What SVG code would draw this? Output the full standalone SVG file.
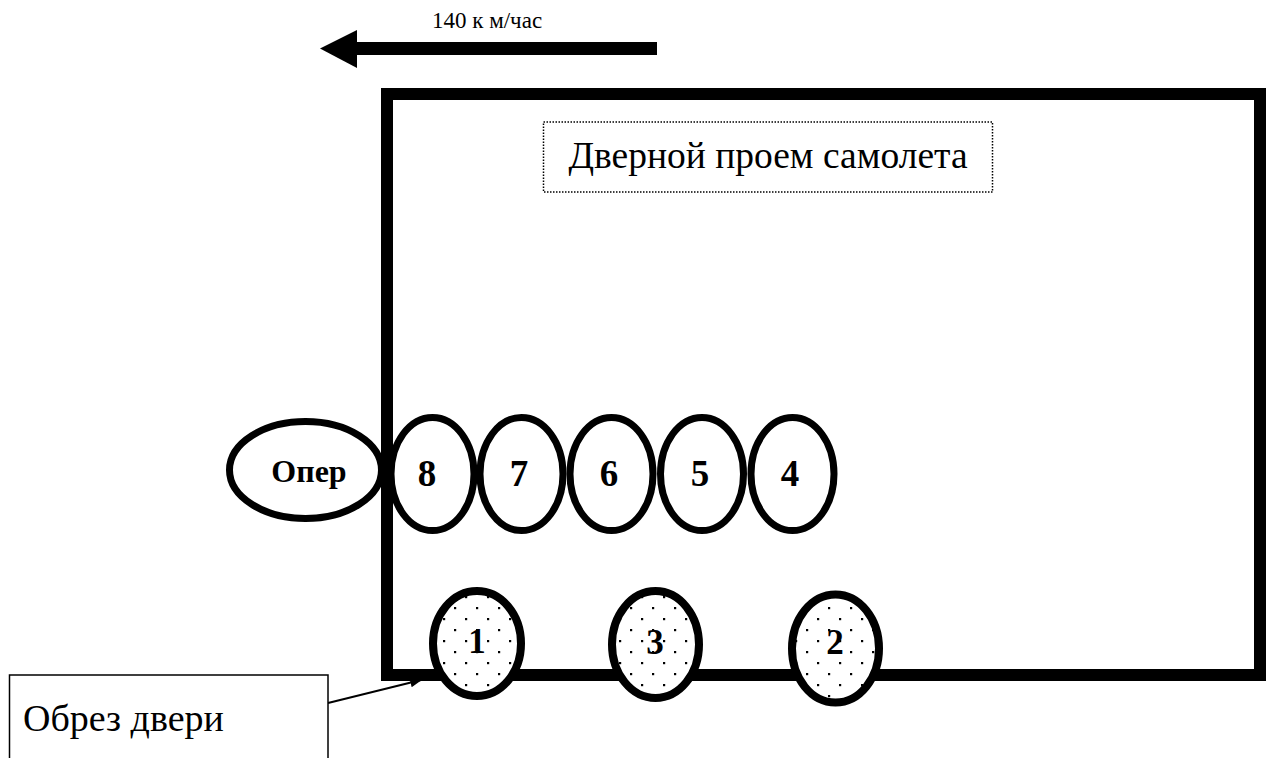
<svg xmlns="http://www.w3.org/2000/svg" width="1272" height="758" viewBox="0 0 1272 758">
  <style>
    .lbl { font-family: "Liberation Serif", "Times New Roman", serif; fill: #000; }
    .num { font-family: "Liberation Serif", "Times New Roman", serif; font-weight: bold; text-anchor: middle; fill: #000; }
    .big { font-size: 37px; }
    .sill { font-size: 35px; }
    .seat { fill: #fff; stroke: #000; stroke-width: 7; }
    .door { fill: url(#dots); stroke: #000; stroke-width: 8; }
  </style>
  <defs>
    <pattern id="dots" width="22" height="22" patternUnits="userSpaceOnUse" x="3" y="2">
      <rect width="22" height="22" fill="#fff"/>
      <rect x="0" y="0" width="2.2" height="2.2" fill="#000"/>
      <rect x="11" y="11" width="2.2" height="2.2" fill="#000"/>
    </pattern>
    <marker id="tip" viewBox="0 0 10 10" refX="9" refY="5" markerWidth="6" markerHeight="6" orient="auto" markerUnits="strokeWidth">
      <path d="M0,1 L10,5 L0,9 z" fill="#000"/>
    </marker>
  </defs>

  <rect width="1272" height="758" fill="#fff"/>

  <!-- flight direction -->
  <g id="direction">
    <rect x="354" y="42" width="303" height="13" fill="#000"/>
    <polygon points="320,48.5 357,30 357,68" fill="#000"/>
    <text class="lbl" x="432" y="28" font-size="23">140 к м/час</text>
  </g>

  <!-- aircraft door opening -->
  <g id="door-frame">
    <rect x="387" y="94" width="873" height="581" fill="none" stroke="#000" stroke-width="12"/>
  </g>

  <g id="title">
    <rect x="543.5" y="122" width="449" height="70" fill="none" stroke="#000" stroke-width="1.5" stroke-dasharray="1.5 1.5"/>
    <text class="lbl" x="768" y="168" font-size="37.5" text-anchor="middle">Дверной проем самолета</text>
  </g>

  <!-- connectors -->
  <g id="connectors">
    <line x1="328" y1="703" x2="421" y2="680" stroke="#000" stroke-width="2" marker-end="url(#tip)"/>
  </g>

  <!-- jumpers in line -->
  <g id="node-oper">
    <ellipse class="seat" cx="305.5" cy="470" rx="76" ry="48.5"/>
    <text class="num" x="309" y="482" style="font-size:32px">Опер</text>
  </g>
  <g id="node-8">
    <ellipse class="seat" cx="432.5" cy="474" rx="41.5" ry="56.5"/>
    <text class="num big" x="427" y="486">8</text>
  </g>
  <g id="node-7">
    <ellipse class="seat" cx="521.5" cy="474" rx="41.5" ry="56.5"/>
    <text class="num big" x="519" y="486">7</text>
  </g>
  <g id="node-6">
    <ellipse class="seat" cx="611.5" cy="474" rx="41.5" ry="56.5"/>
    <text class="num big" x="609" y="486">6</text>
  </g>
  <g id="node-5">
    <ellipse class="seat" cx="702" cy="474" rx="41.5" ry="56.5"/>
    <text class="num big" x="700" y="486">5</text>
  </g>
  <g id="node-4">
    <ellipse class="seat" cx="792.5" cy="474" rx="41.5" ry="56.5"/>
    <text class="num big" x="790" y="486">4</text>
  </g>

  <!-- jumpers at the door sill -->
  <g id="node-1">
    <ellipse class="door" cx="477" cy="643.5" rx="44" ry="52.5"/>
    <text class="num sill" x="477" y="653">1</text>
  </g>
  <g id="node-3">
    <ellipse class="door" cx="655.5" cy="644.5" rx="43.5" ry="53.5"/>
    <text class="num sill" x="655" y="654">3</text>
  </g>
  <g id="node-2">
    <ellipse class="door" cx="835.5" cy="648.5" rx="43.5" ry="54"/>
    <text class="num sill" x="835" y="654">2</text>
  </g>

  <!-- callout -->
  <g id="callout">
    <rect x="9.5" y="675" width="318.5" height="100" fill="#fff" stroke="#000" stroke-width="1.5"/>
    <text class="lbl" x="23" y="731" font-size="38">Обрез двери</text>
  </g>
</svg>
